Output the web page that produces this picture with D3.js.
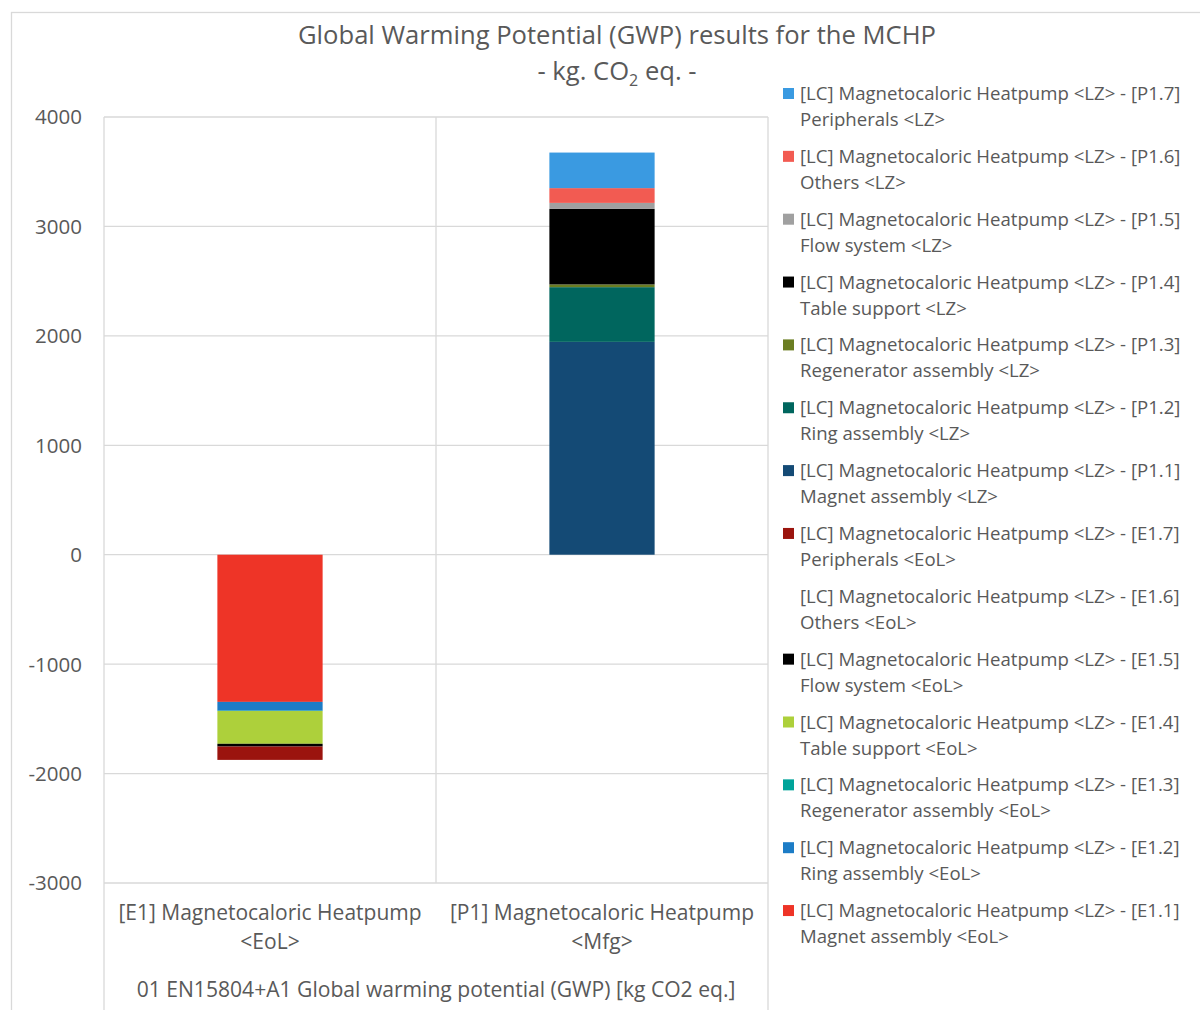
<!DOCTYPE html>
<html>
<head>
<meta charset="utf-8">
<script src="https://cdn.jsdelivr.net/npm/d3@7"></script>
<style>
  html, body { margin: 0; padding: 0; background: #fff; }
  svg { display: block; font-family: "Open Sans", "Lato", sans-serif; }
</style>
</head>
<body>
<svg id="chart" width="1200" height="1010"></svg>
<script>
// Categories (x axis) and the group label under them
const categories = ["[E1] Magnetocaloric Heatpump\n<EoL>", "[P1] Magnetocaloric Heatpump\n<Mfg>"];
const groupLabel = "01 EN15804+A1 Global warming potential (GWP) [kg CO2 eq.]";

// Series keys, in stacking order
const seriesKeys = ["E1.1", "E1.2", "E1.3", "E1.4", "E1.5", "E1.6", "E1.7",
                    "P1.1", "P1.2", "P1.3", "P1.4", "P1.5", "P1.6", "P1.7"];
const seriesNames = [
  "Magnet assembly <EoL>", "Ring assembly <EoL>", "Regenerator assembly <EoL>", "Table support <EoL>",
  "Flow system <EoL>", "Others <EoL>", "Peripherals <EoL>",
  "Magnet assembly <LZ>", "Ring assembly <LZ>", "Regenerator assembly <LZ>", "Table support <LZ>",
  "Flow system <LZ>", "Others <LZ>", "Peripherals <LZ>"
];
const seriesColors = ["#ee3427", "#1c7cc6", "#00a49a", "#add03b", "#000000", "none", "#9b140e",
                      "#144a75", "#00665e", "#6b7e22", "#000000", "#a0a0a0", "#f25b52", "#3a9ae1"];

// kg CO2 eq. per series, for [E1] (end of life) and [P1] (manufacturing)
const valuesE1 = [-1345, -80, -3, -300, -25, 0, -122, 0, 0, 0, 0, 0, 0, 0];
const valuesP1 = [0, 0, 0, 0, 0, 0, 0, 1945, 500, 25, 690, 55, 135, 325];

// y axis ticks
const yTicks = [-3000, -2000, -1000, 0, 1000, 2000, 3000, 4000];

const titleLine1 = "Global Warming Potential (GWP) results for the MCHP";

// ---- layout ----
const svg = d3.select("#chart");
const plot = { left: 104, right: 768, top: 117, bottom: 883 };
const textColor = "#595959";
const gridColor = "#d9d9d9";

// outer chart frame
svg.append("rect")
  .attr("x", 11.5).attr("y", 12.5).attr("width", 1300).attr("height", 1100)
  .attr("fill", "#fff").attr("stroke", gridColor).attr("stroke-width", 1.3);

const y = d3.scaleLinear().domain([-3000, 4000]).range([plot.bottom, plot.top]);
const x = d3.scaleBand().domain(categories).range([plot.left, plot.right]).padding(0);
const barW = x.bandwidth() * 0.317;

// gridlines
svg.append("g").selectAll("line").data(yTicks).join("line")
  .attr("x1", plot.left).attr("x2", plot.right)
  .attr("y1", d => y(d)).attr("y2", d => y(d))
  .attr("stroke", gridColor).attr("stroke-width", 1.3);

// vertical category separators (run through the label rows)
const sepX = [plot.left, plot.left + x.bandwidth(), plot.right];
svg.append("g").selectAll("line").data(sepX).join("line")
  .attr("x1", d => d).attr("x2", d => d)
  .attr("y1", plot.top)
  .attr("y2", (d, i) => i === 1 ? plot.bottom : 1020)
  .attr("stroke", gridColor).attr("stroke-width", 1.3);

// y axis labels
const yAxis = d3.axisLeft(y).tickValues(yTicks).tickSize(0).tickPadding(0).tickFormat(d => String(d));
const yg = svg.append("g").attr("transform", `translate(82,0)`).call(yAxis);
yg.select(".domain").remove();
yg.selectAll("text").attr("fill", textColor).style("font-size", "20.5px")
  .style("font-family", "'Open Sans', sans-serif").attr("dy", "0.34em");

// stacked bars
const rows = categories.map((c, ci) => {
  const r = { cat: c };
  seriesKeys.forEach((k, i) => { r[k] = ci === 0 ? valuesE1[i] : valuesP1[i]; });
  return r;
});
const stacked = d3.stack().keys(seriesKeys).offset(d3.stackOffsetDiverging)(rows);

svg.append("g").selectAll("g").data(stacked).join("g")
  .attr("fill", (d, i) => seriesColors[i])
  .selectAll("rect").data(d => d.filter(p => p[1] !== p[0])).join("rect")
  .attr("x", p => x(p.data.cat) + (x.bandwidth() - barW) / 2)
  .attr("width", barW)
  .attr("y", p => y(Math.max(p[0], p[1])))
  .attr("height", p => Math.abs(y(p[0]) - y(p[1])));

// category labels
const catG = svg.append("g").attr("fill", textColor).style("font-size", "21px");
categories.forEach(c => {
  const lines = c.split("\n");
  const t = catG.append("text").attr("text-anchor", "middle")
    .attr("x", x(c) + x.bandwidth() / 2).attr("y", 920);
  lines.forEach((ln, i) => t.append("tspan")
    .attr("x", x(c) + x.bandwidth() / 2).attr("dy", i === 0 ? 0 : 29).text(ln));
});
svg.append("text").attr("text-anchor", "middle")
  .attr("x", (plot.left + plot.right) / 2).attr("y", 997)
  .attr("fill", textColor).style("font-size", "21.1px").text(groupLabel);

// title
const title = svg.append("text").attr("text-anchor", "middle").attr("fill", textColor)
  .style("font-size", "25.6px");
title.append("tspan").attr("x", 617).attr("y", 44).text(titleLine1);
const t2 = svg.append("text").attr("text-anchor", "middle").attr("fill", textColor)
  .style("font-size", "25.6px").attr("x", 617).attr("y", 80);
t2.append("tspan").text("- kg. CO");
t2.append("tspan").attr("dy", 6).style("font-size", "16px").text("2");
t2.append("tspan").attr("dy", -6).text(" eq. -");

// legend (reverse order of the stack)
const legendOrder = d3.range(seriesKeys.length).reverse();
const lg = svg.append("g").style("font-size", "18.6px").attr("fill", textColor);
legendOrder.forEach((si, j) => {
  const cy = 94 + j * 62.85;
  if (seriesColors[si] !== "none") {
    lg.append("rect").attr("x", 783).attr("y", cy - 6).attr("width", 11).attr("height", 11)
      .attr("fill", seriesColors[si]);
  }
  const t = lg.append("text").attr("x", 800).attr("y", cy + 6);
  t.append("tspan").attr("x", 800).text(`[LC] Magnetocaloric Heatpump <LZ> - [${seriesKeys[si]}]`);
  t.append("tspan").attr("x", 800).attr("dy", 26).text(seriesNames[si]);
});
</script>
</body>
</html>
